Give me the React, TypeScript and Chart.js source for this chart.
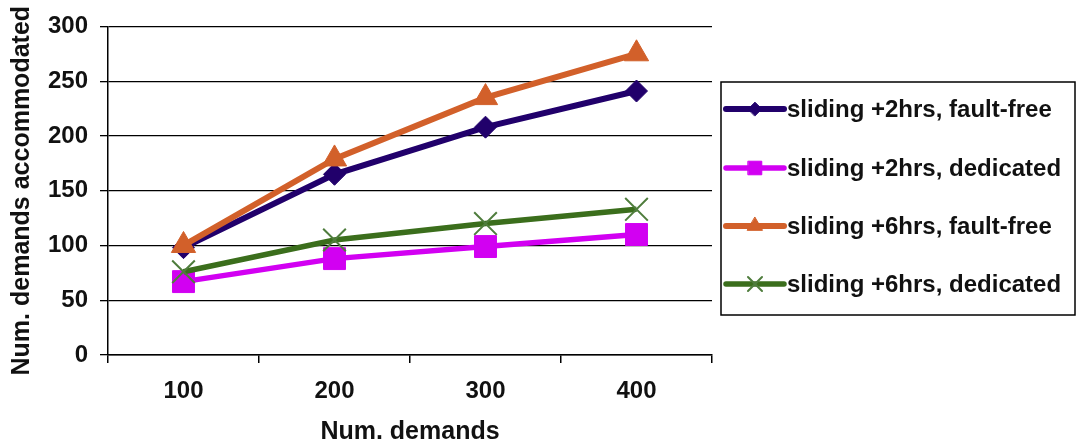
import React, { useEffect, useRef } from 'react';
import { Chart, registerables } from 'chart.js';
import { drawPoint } from 'chart.js/helpers';

Chart.register(...registerables);

const categories = ['100', '200', '300', '400'];
const seriesNames = [
  'sliding +2hrs, fault-free',
  'sliding +2hrs, dedicated',
  'sliding +6hrs, fault-free',
  'sliding +6hrs, dedicated',
];
const fault2hrs = [98, 165, 208, 241];
const dedicated2hrs = [67, 88, 99, 110];
const fault6hrs = [100, 179, 235, 275];
const dedicated6hrs = [76, 105, 120, 133];
const yTicks = [0, 50, 100, 150, 200, 250, 300];
const xTitle = 'Num. demands';
const yTitle = 'Num. demands accommodated';

const FONT = '"Liberation Sans", Arial, Helvetica, sans-serif';

const legendPlugin = {
  id: 'boxedLegend',
  afterDraw(chart: any) {
    const ctx = chart.ctx;
    const box = { left: 721, top: 82, right: 1075, bottom: 315 };
    ctx.save();
    ctx.strokeStyle = '#000';
    ctx.lineWidth = 1.5;
    ctx.strokeRect(box.left, box.top, box.right - box.left, box.bottom - box.top);
    const rowY = [109, 168, 226, 284];
    chart.data.datasets.forEach((ds: any, i: number) => {
      const y = rowY[i];
      ctx.strokeStyle = ds.borderColor;
      ctx.lineWidth = ds.borderWidth;
      ctx.lineCap = 'round';
      ctx.beginPath();
      ctx.moveTo(726, y);
      ctx.lineTo(784, y);
      ctx.stroke();
      ctx.fillStyle = ds.pointBackgroundColor;
      ctx.strokeStyle = ds.pointBorderColor;
      ctx.lineWidth = ds.pointBorderWidth;
      drawPoint(ctx, {
        pointStyle: ds.pointStyle,
        radius: ds.pointRadius * 0.62,
        rotation: 0,
        borderWidth: ds.pointBorderWidth,
      }, 755, y);
      ctx.fillStyle = '#111';
      ctx.font = `bold 24px ${FONT}`;
      ctx.textAlign = 'left';
      ctx.textBaseline = 'middle';
      ctx.fillText(seriesNames[i], 787, y + 1);
    });
    ctx.restore();
  },
};

export default function App() {
  const ref = useRef<HTMLCanvasElement | null>(null);
  useEffect(() => {
    if (!ref.current) return;
    const tickFont = { family: FONT, size: 24, weight: 'bold' as const };
    const titleFont = { family: FONT, size: 25, weight: 'bold' as const };
    const chart = new Chart(ref.current, {
      type: 'line',
      data: {
        labels: categories,
        datasets: [
          {
            label: seriesNames[0],
            data: fault2hrs,
            borderColor: '#21006b',
            backgroundColor: '#21006b',
            pointBackgroundColor: '#21006b',
            pointBorderColor: '#21006b',
            pointBorderWidth: 1,
            borderWidth: 6,
            pointStyle: 'rectRot',
            pointRadius: 11,
            tension: 0,
            order: 4,
          },
          {
            label: seriesNames[1],
            data: dedicated2hrs,
            borderColor: '#d200f2',
            backgroundColor: '#d200f2',
            pointBackgroundColor: '#d200f2',
            pointBorderColor: '#d200f2',
            pointBorderWidth: 1,
            borderWidth: 5.5,
            pointStyle: 'rect',
            pointRadius: 15.5,
            tension: 0,
            order: 3,
          },
          {
            label: seriesNames[2],
            data: fault6hrs,
            borderColor: '#d2602a',
            backgroundColor: '#d2602a',
            pointBackgroundColor: '#d2602a',
            pointBorderColor: '#d2602a',
            pointBorderWidth: 1,
            borderWidth: 6,
            pointStyle: 'triangle',
            pointRadius: 14,
            tension: 0,
            order: 2,
          },
          {
            label: seriesNames[3],
            data: dedicated6hrs,
            borderColor: '#3b6e1c',
            backgroundColor: '#3b6e1c',
            pointBackgroundColor: '#3b6e1c',
            pointBorderColor: '#4f7d3d',
            pointBorderWidth: 2,
            borderWidth: 5.5,
            pointStyle: 'crossRot',
            pointRadius: 16,
            tension: 0,
            order: 1,
          },
        ],
      },
      options: {
        animation: false,
        responsive: false,
        devicePixelRatio: 1,
        events: [],
        layout: { padding: { left: 0, top: 25, right: 374, bottom: 0 } },
        plugins: {
          legend: { display: false },
          tooltip: { enabled: false },
        },
        scales: {
          x: {
            type: 'category',
            offset: true,
            grid: {
              display: true,
              drawOnChartArea: false,
              drawTicks: true,
              tickLength: 8,
              color: '#000',
              lineWidth: 1.5,
              offset: true,
            },
            border: { display: true, color: '#000', width: 1.5 },
            ticks: { color: '#111', font: tickFont, padding: 14, maxRotation: 0 },
            title: {
              display: true,
              text: xTitle,
              color: '#111',
              font: titleFont,
              padding: { top: 0, bottom: 1 },
            },
            afterFit: (s: any) => {
              s.height = 93;
            },
          },
          y: {
            type: 'linear',
            min: 0,
            max: 300,
            afterBuildTicks: (s: any) => {
              s.ticks = yTicks.map((v) => ({ value: v }));
            },
            grid: { color: '#000', lineWidth: 1.3, tickLength: 8, drawTicks: true },
            border: { display: true, color: '#000', width: 1.5 },
            ticks: { color: '#111', font: tickFont, padding: 12 },
            title: {
              display: true,
              text: yTitle,
              color: '#111',
              font: titleFont,
              padding: { top: 7, bottom: 0 },
            },
            afterFit: (s: any) => {
              s.width = 108;
            },
          },
        },
      },
      plugins: [legendPlugin],
    } as any);
    return () => chart.destroy();
  }, []);
  return (
    <div style={{ position: 'fixed', left: 0, top: 0, width: 1086, height: 448, background: '#fff' }}>
      <canvas ref={ref} width={1086} height={448} style={{ display: 'block' }} />
    </div>
  );
}
